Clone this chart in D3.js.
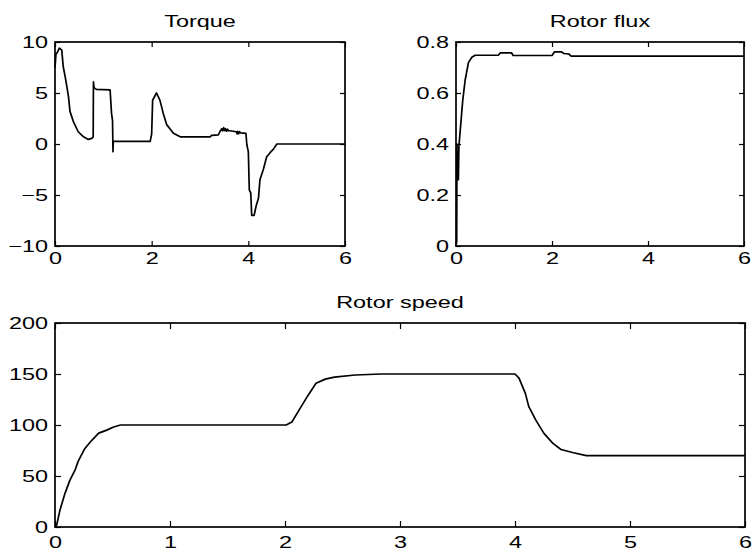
<!DOCTYPE html>
<html>
<head>
<meta charset="utf-8">
<script src="https://cdn.jsdelivr.net/npm/d3@7"></script>
<style>
  body { margin: 0; background: #fff; }
</style>
</head>
<body>
<div id="chart"></div>
<script>
// time (s) / value pairs
var torqueT = [0, 0.02, 0.05, 0.09, 0.14, 0.17, 0.21, 0.25, 0.28, 0.31, 0.38, 0.48, 0.59, 0.69, 0.76, 0.79, 0.795, 0.81, 0.86, 1.14, 1.17, 1.19, 1.2, 1.205, 1.21, 1.97, 2.0, 2.02, 2.1, 2.17, 2.24, 2.31, 2.45, 2.59, 3.21, 3.24, 3.38, 3.41, 3.45, 3.47, 3.49, 3.51, 3.53, 3.55, 3.57, 3.59, 3.62, 3.75, 3.77, 3.78, 3.8, 3.82, 3.84, 3.95, 3.97, 4.0, 4.02, 4.05, 4.07, 4.12, 4.16, 4.21, 4.24, 4.31, 4.38, 4.45, 4.52, 4.59, 6];
var torqueV = [7.5, 8.8, 9.0, 9.4, 9.2, 7.6, 6.6, 5.5, 4.6, 3.2, 2.2, 1.2, 0.7, 0.45, 0.55, 0.7, 6.1, 5.5, 5.35, 5.3, 3.0, 2.3, -0.75, 0.25, 0.25, 0.25, 1.0, 4.3, 5.0, 4.3, 3.0, 1.9, 1.05, 0.7, 0.7, 0.85, 0.9, 1.2, 1.5, 1.3, 1.6, 1.3, 1.5, 1.25, 1.45, 1.3, 1.3, 1.2, 1.0, 1.25, 1.0, 1.2, 1.1, 1.05, -0.1, -0.75, -4.5, -4.8, -7.0, -7.0, -6.1, -5.3, -3.5, -2.5, -1.25, -0.85, -0.5, 0, 0];

var fluxT = [0, 0.015, 0.02, 0.03, 0.05, 0.06, 0.1, 0.14, 0.19, 0.26, 0.33, 0.4, 0.88, 0.92, 1.16, 1.19, 2.0, 2.05, 2.2, 2.25, 2.35, 2.4, 6];
var fluxV = [0, 0.02, 0.4, 0.26, 0.26, 0.39, 0.48, 0.57, 0.65, 0.72, 0.74, 0.748, 0.748, 0.757, 0.757, 0.747, 0.747, 0.761, 0.761, 0.755, 0.753, 0.745, 0.745];

var speedT = [0, 0.015, 0.044, 0.087, 0.13, 0.175, 0.2, 0.26, 0.32, 0.38, 0.45, 0.51, 0.57, 2.01, 2.06, 2.13, 2.2, 2.27, 2.35, 2.43, 2.61, 2.84, 4.0, 4.035, 4.09, 4.12, 4.18, 4.25, 4.33, 4.4, 4.5, 4.62, 6];
var speedV = [0, 2, 17, 33, 46, 56, 64, 77, 85, 92, 95, 98, 100, 100, 103, 116, 129, 141, 145, 147, 149, 150, 150, 146, 131, 118, 105, 92, 82, 76, 73, 70, 70];

var torqueTicksY = [-10, -5, 0, 5, 10];
var fluxTicksY = [0, 0.2, 0.4, 0.6, 0.8];
var speedTicksY = [0, 50, 100, 150, 200];
var topTicksX = [0, 2, 4, 6];
var speedTicksX = [0, 1, 2, 3, 4, 5, 6];

var W = 753, H = 560;
var svg = d3.select('#chart').append('svg')
    .attr('width', W)
    .attr('height', H);

function zip(t, v) { return t.map(function(d, i) { return [d, v[i]]; }); }

function drawPanel(box, title, t, v, yDomain, xTicks, yTicks, yFmt, tick, xPad) {
    var x = d3.scaleLinear().domain([0, 6]).range([box.l, box.r]);
    var y = d3.scaleLinear().domain(yDomain).range([box.b, box.t]);
    var g = svg.append('g');

    g.append('g')
        .attr('transform', 'translate(0,' + box.b + ')')
        .call(d3.axisBottom(x).tickValues(xTicks).tickSizeInner(-tick).tickSizeOuter(0).tickPadding(xPad).tickFormat(d3.format('d')))
        .call(function(a) { a.select('.domain').remove(); });
    g.append('g')
        .attr('transform', 'translate(0,' + box.t + ')')
        .call(d3.axisTop(x).tickValues(xTicks).tickSizeInner(-tick).tickSizeOuter(0).tickFormat(''))
        .call(function(a) { a.select('.domain').remove(); });
    g.append('g')
        .attr('transform', 'translate(' + box.l + ',0)')
        .call(d3.axisLeft(y).tickValues(yTicks).tickSizeInner(-tick).tickSizeOuter(0).tickPadding(7).tickFormat(yFmt))
        .call(function(a) { a.select('.domain').remove(); });
    g.append('g')
        .attr('transform', 'translate(' + box.r + ',0)')
        .call(d3.axisRight(y).tickValues(yTicks).tickSizeInner(-tick).tickSizeOuter(0).tickFormat(''))
        .call(function(a) { a.select('.domain').remove(); });
    g.selectAll('.tick line').attr('stroke', '#000').attr('stroke-width', 1.2);

    var line = d3.line().x(function(d) { return x(d[0]); }).y(function(d) { return y(d[1]); });
    g.append('path')
        .datum(zip(t, v))
        .attr('d', line)
        .attr('fill', 'none')
        .attr('stroke', '#000')
        .attr('stroke-width', 1.7)
        .attr('stroke-linejoin', 'round');

    g.append('rect')
        .attr('x', box.l).attr('y', box.t)
        .attr('width', box.r - box.l).attr('height', box.b - box.t)
        .attr('fill', 'none')
        .attr('stroke', '#000')
        .attr('stroke-width', 1.7);

    g.append('text')
        .attr('x', (box.l + box.r) / 2)
        .attr('y', box.t - 15)
        .attr('text-anchor', 'middle')
        .text(title);
}

drawPanel({l: 55, r: 345, t: 42, b: 246}, 'Torque', torqueT, torqueV, [-10, 10],
    topTicksX, torqueTicksY, d3.format('d'), 5, 6);
drawPanel({l: 456, r: 744, t: 42, b: 246}, 'Rotor flux', fluxT, fluxV, [0, 0.8],
    topTicksX, fluxTicksY, function(d) { return d === 0 ? '0' : d3.format('.1f')(d); }, 5, 6);
drawPanel({l: 55, r: 745, t: 323, b: 527}, 'Rotor speed', speedT, speedV, [0, 200],
    speedTicksX, speedTicksY, d3.format('d'), 6, 9);

// the original figure is stretched sideways, so widen every glyph
svg.selectAll('text')
    .attr('fill', '#000')
    .style('font-family', '"Liberation Sans", Arial, sans-serif')
    .style('font-size', '16.5px')
    .each(function() {
        var w = this.getComputedTextLength();
        d3.select(this).attr('textLength', w * 1.42).attr('lengthAdjust', 'spacingAndGlyphs');
    });
</script>
</body>
</html>
